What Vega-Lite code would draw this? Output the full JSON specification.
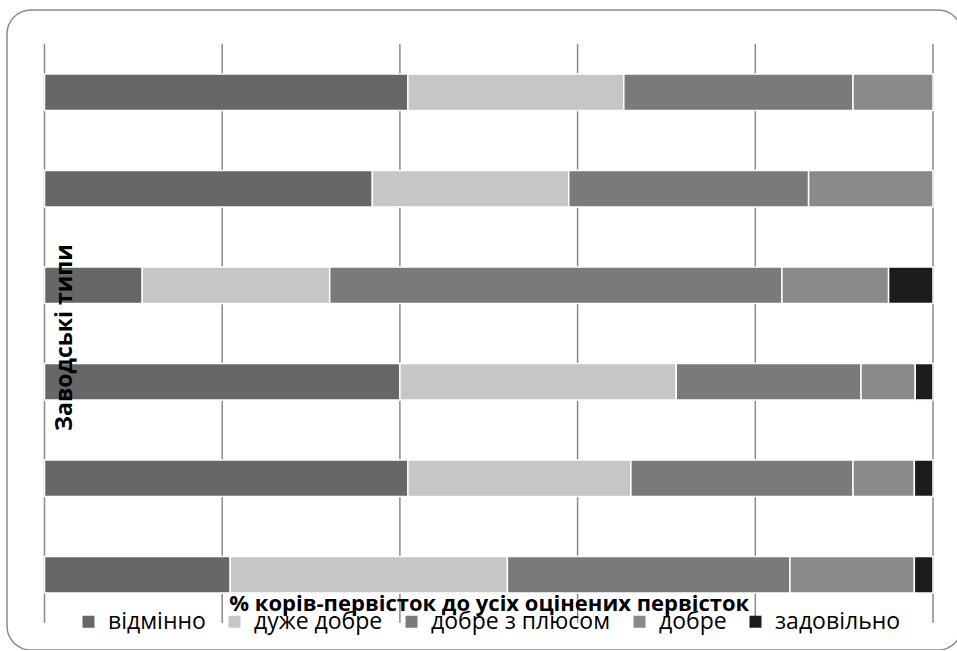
{
  "$schema": "https://vega.github.io/schema/vega-lite/v6.json",
  "width": 955,
  "height": 640,
  "autosize": {"type": "none"},
  "padding": {"left": 7, "top": 10, "right": 0, "bottom": 0},
  "background": "white",
  "config": {
    "font": "Open Sans",
    "view": {"stroke": "#8c8c8c", "strokeWidth": 1.5, "cornerRadius": 24}
  },
  "datasets": {
    "grid": [{"g": 0}, {"g": 20}, {"g": 40}, {"g": 60}, {"g": 80}, {"g": 100}],
    "shares": [
      {"type": "Тип 1", "grade": "відмінно", "ord": 1, "pct": 40.9},
      {"type": "Тип 1", "grade": "дуже добре", "ord": 2, "pct": 24.3},
      {"type": "Тип 1", "grade": "добре з плюсом", "ord": 3, "pct": 25.8},
      {"type": "Тип 1", "grade": "добре", "ord": 4, "pct": 9.0},
      {"type": "Тип 2", "grade": "відмінно", "ord": 1, "pct": 36.9},
      {"type": "Тип 2", "grade": "дуже добре", "ord": 2, "pct": 22.1},
      {"type": "Тип 2", "grade": "добре з плюсом", "ord": 3, "pct": 27.0},
      {"type": "Тип 2", "grade": "добре", "ord": 4, "pct": 14.0},
      {"type": "Тип 3", "grade": "відмінно", "ord": 1, "pct": 11.0},
      {"type": "Тип 3", "grade": "дуже добре", "ord": 2, "pct": 21.1},
      {"type": "Тип 3", "grade": "добре з плюсом", "ord": 3, "pct": 50.9},
      {"type": "Тип 3", "grade": "добре", "ord": 4, "pct": 12.0},
      {"type": "Тип 3", "grade": "задовільно", "ord": 5, "pct": 5.0},
      {"type": "Тип 4", "grade": "відмінно", "ord": 1, "pct": 40.0},
      {"type": "Тип 4", "grade": "дуже добре", "ord": 2, "pct": 31.1},
      {"type": "Тип 4", "grade": "добре з плюсом", "ord": 3, "pct": 20.8},
      {"type": "Тип 4", "grade": "добре", "ord": 4, "pct": 6.1},
      {"type": "Тип 4", "grade": "задовільно", "ord": 5, "pct": 2.0},
      {"type": "Тип 5", "grade": "відмінно", "ord": 1, "pct": 40.9},
      {"type": "Тип 5", "grade": "дуже добре", "ord": 2, "pct": 25.1},
      {"type": "Тип 5", "grade": "добре з плюсом", "ord": 3, "pct": 25.0},
      {"type": "Тип 5", "grade": "добре", "ord": 4, "pct": 6.9},
      {"type": "Тип 5", "grade": "задовільно", "ord": 5, "pct": 2.1},
      {"type": "Тип 6", "grade": "відмінно", "ord": 1, "pct": 20.9},
      {"type": "Тип 6", "grade": "дуже добре", "ord": 2, "pct": 31.2},
      {"type": "Тип 6", "grade": "добре з плюсом", "ord": 3, "pct": 31.8},
      {"type": "Тип 6", "grade": "добре", "ord": 4, "pct": 14.0},
      {"type": "Тип 6", "grade": "задовільно", "ord": 5, "pct": 2.1}
    ]
  },
  "layer": [
    {
      "data": {"name": "grid"},
      "mark": {"type": "rule", "color": "#8a8a8a", "strokeWidth": 1.5},
      "encoding": {
        "x": {
          "field": "g",
          "type": "quantitative",
          "scale": {"domain": [0, 100], "range": [37.5, 926], "nice": false, "zero": false},
          "axis": {
            "title": "% корів-первісток до усіх оцінених первісток",
            "labels": false,
            "ticks": false,
            "domain": false,
            "grid": false,
            "zindex": 2,
            "titleFont": "Open Sans",
            "titleFontSize": 22,
            "titleFontWeight": "bold",
            "titleColor": "#000000",
            "titleBaseline": "middle",
            "titleY": -47
          }
        },
        "y": {
          "datum": 0,
          "type": "quantitative",
          "scale": {"domain": [0, 1], "range": [34, 613]},
          "axis": null
        },
        "y2": {"datum": 1}
      }
    },
    {
      "data": {"name": "shares"},
      "mark": {"type": "bar", "stroke": "white", "strokeWidth": 1.5},
      "encoding": {
        "y": {
          "field": "type",
          "type": "nominal",
          "sort": ["Тип 1", "Тип 2", "Тип 3", "Тип 4", "Тип 5", "Тип 6"],
          "scale": {"range": [34, 613], "paddingInner": 0.62, "paddingOuter": 0.31},
          "axis": {
            "title": "Заводські типи",
            "labels": false,
            "ticks": false,
            "domain": false,
            "grid": false,
            "zindex": 2,
            "titleFont": "Open Sans",
            "titleFontSize": 23,
            "titleFontWeight": "bold",
            "titleColor": "#000000",
            "titleAngle": -90,
            "titleAlign": "center",
            "titleBaseline": "middle",
            "titleX": 57,
            "titleY": 327
          }
        },
        "x": {
          "field": "pct",
          "type": "quantitative",
          "stack": "zero",
          "axis": {
            "title": "% корів-первісток до усіх оцінених первісток",
            "labels": false,
            "ticks": false,
            "domain": false,
            "grid": false,
            "zindex": 2,
            "titleFont": "Open Sans",
            "titleFontSize": 22,
            "titleFontWeight": "bold",
            "titleColor": "#000000",
            "titleBaseline": "middle",
            "titleY": -47
          }
        },
        "order": {"field": "ord", "type": "quantitative", "sort": "ascending"},
        "color": {
          "field": "grade",
          "type": "nominal",
          "scale": {
            "domain": ["відмінно", "дуже добре", "добре з плюсом", "добре", "задовільно"],
            "range": ["#676767", "#c6c6c6", "#7a7a7a", "#8a8a8a", "#1c1c1c"]
          },
          "legend": {
            "title": null,
            "orient": "none",
            "direction": "horizontal",
            "legendX": 70,
            "legendY": 600,
            "symbolType": "square",
            "symbolSize": 144,
            "symbolStrokeWidth": 0,
            "labelFont": "Open Sans",
            "labelFontSize": 23,
            "labelLimit": 400,
            "labelColor": "#000000",
            "labelOffset": 8,
            "columnPadding": 17,
            "zindex": 2
          }
        }
      }
    }
  ],
  "resolve": {"scale": {"y": "independent"}, "axis": {"y": "independent"}}
}
